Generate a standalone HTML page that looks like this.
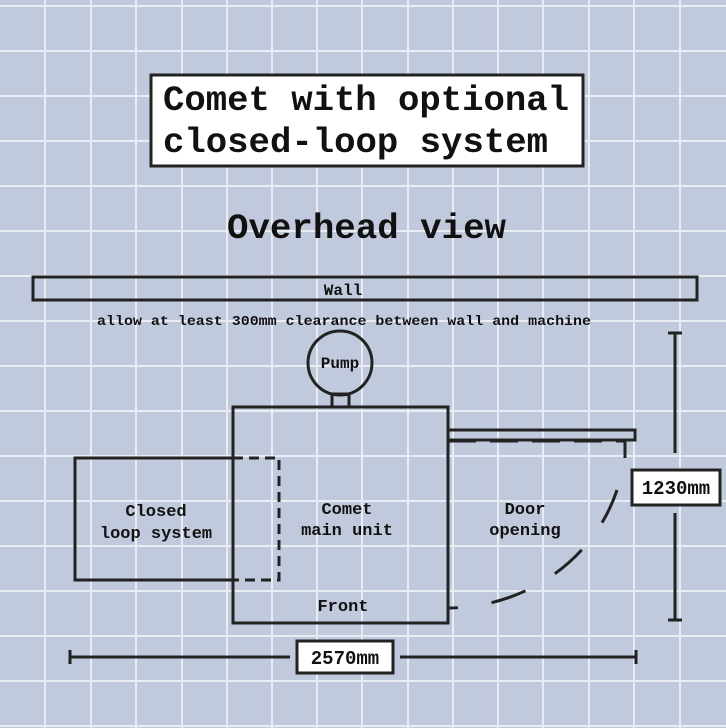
<!DOCTYPE html>
<html><head><style>html,body{margin:0;padding:0;background:#c1cadc}svg{display:block}text{font-family:"Liberation Mono","DejaVu Sans Mono",monospace;font-weight:bold;fill:#111}</style></head>
<body>
<svg width="726" height="728" viewBox="0 0 726 728" xmlns="http://www.w3.org/2000/svg">
<rect width="726" height="728" fill="#c1cadc"/>
<g stroke="#e9edf3" stroke-width="2">
<line x1="45" y1="0" x2="45" y2="728"/><line x1="91" y1="0" x2="91" y2="728"/><line x1="136" y1="0" x2="136" y2="728"/><line x1="182" y1="0" x2="182" y2="728"/><line x1="227" y1="0" x2="227" y2="728"/><line x1="272" y1="0" x2="272" y2="728"/><line x1="317" y1="0" x2="317" y2="728"/><line x1="362" y1="0" x2="362" y2="728"/><line x1="408" y1="0" x2="408" y2="728"/><line x1="453" y1="0" x2="453" y2="728"/><line x1="498" y1="0" x2="498" y2="728"/><line x1="543" y1="0" x2="543" y2="728"/><line x1="589" y1="0" x2="589" y2="728"/><line x1="634" y1="0" x2="634" y2="728"/><line x1="680" y1="0" x2="680" y2="728"/>
<line x1="0" y1="6" x2="726" y2="6"/><line x1="0" y1="51" x2="726" y2="51"/><line x1="0" y1="96" x2="726" y2="96"/><line x1="0" y1="141" x2="726" y2="141"/><line x1="0" y1="186" x2="726" y2="186"/><line x1="0" y1="231" x2="726" y2="231"/><line x1="0" y1="276" x2="726" y2="276"/><line x1="0" y1="321" x2="726" y2="321"/><line x1="0" y1="366" x2="726" y2="366"/><line x1="0" y1="411" x2="726" y2="411"/><line x1="0" y1="456" x2="726" y2="456"/><line x1="0" y1="501" x2="726" y2="501"/><line x1="0" y1="546" x2="726" y2="546"/><line x1="0" y1="591" x2="726" y2="591"/><line x1="0" y1="636" x2="726" y2="636"/><line x1="0" y1="681" x2="726" y2="681"/><line x1="0" y1="726" x2="726" y2="726"/>
</g>
<rect x="151" y="75" width="432" height="91" fill="#fff" stroke="#222" stroke-width="3"/>
<text x="163" y="110" font-size="35" textLength="406" lengthAdjust="spacingAndGlyphs">Comet with optional</text>
<text x="163" y="152" font-size="35" textLength="385" lengthAdjust="spacingAndGlyphs">closed-loop system</text>
<text x="227" y="238" font-size="35" textLength="279" lengthAdjust="spacingAndGlyphs">Overhead view</text>
<g fill="none" stroke="#222" stroke-width="3">
<rect x="33" y="277" width="664" height="23"/>
<circle cx="340" cy="363" r="32"/>
<rect x="332" y="394" width="17" height="13"/>
<rect x="233" y="407" width="215" height="216"/>
<path d="M233 458 H75 V580 H233"/>
<path d="M233 458 H279 V580 H233" stroke-dasharray="10,6"/>
<rect x="448" y="430" width="187" height="10"/>
<path d="M448 441 H625 V458" stroke-dasharray="28,14"/>
<path d="M617 490 A178 168 0 0 1 448 608" stroke-dasharray="36,34"/>
<path d="M675 333 V453 M668 333 H682 M675 513 V620 M668 620 H682"/>
<path d="M70 657 H290 M400 657 H636 M70 650 V664 M636 650 V664"/>
</g>
<rect x="632" y="470" width="88" height="35" fill="#fff" stroke="#222" stroke-width="3"/>
<rect x="297" y="641" width="96" height="32" fill="#fff" stroke="#222" stroke-width="3"/>
<text x="343" y="295" font-size="16" text-anchor="middle">Wall</text>
<text x="97" y="325" font-size="14" textLength="494" lengthAdjust="spacingAndGlyphs">allow at least 300mm clearance between wall and machine</text>
<text x="340" y="368" font-size="16" text-anchor="middle">Pump</text>
<text x="156" y="516" font-size="17" text-anchor="middle">Closed</text>
<text x="156" y="538" font-size="17" text-anchor="middle">loop system</text>
<text x="347" y="514" font-size="17" text-anchor="middle">Comet</text>
<text x="347" y="535" font-size="17" text-anchor="middle">main unit</text>
<text x="525" y="514" font-size="17" text-anchor="middle">Door</text>
<text x="525" y="535" font-size="17" text-anchor="middle">opening</text>
<text x="343" y="611" font-size="17" text-anchor="middle">Front</text>
<text x="676" y="494" font-size="19" text-anchor="middle">1230mm</text>
<text x="345" y="664" font-size="19" text-anchor="middle">2570mm</text>
</svg>
</body></html>
